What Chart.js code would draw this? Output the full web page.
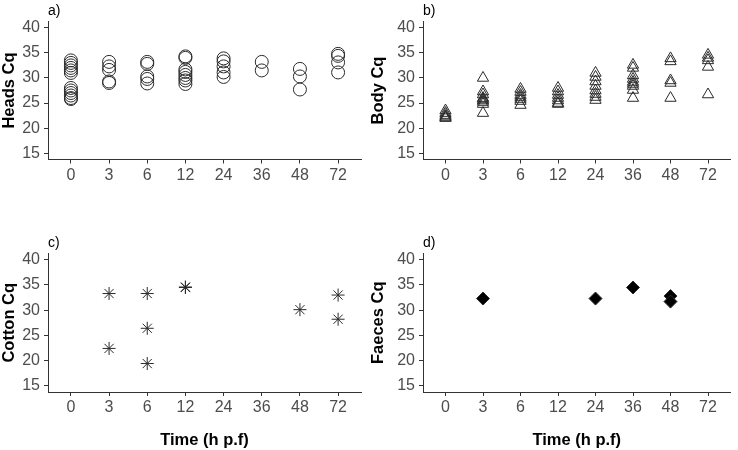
<!DOCTYPE html>
<html lang="en">
<head>
  <meta charset="UTF-8" />
  <title>Cq over time</title>
  <script src="https://cdn.jsdelivr.net/npm/chart.js"></script>
  <style>
    body { margin: 0; padding: 0; background: #fff; font-family: "Liberation Sans", Arial, sans-serif; }
    #wrap { position: relative; width: 738px; height: 450px; }
    .panel { position: absolute; }
    .lbl { position: absolute; font-size: 14px; color: #000; }
  </style>
</head>
<body>
  <div id="wrap">
    <div class="panel" style="left:0;top:0;"><canvas id="cA" width="369" height="200"></canvas></div>
    <div class="panel" style="left:369px;top:0;"><canvas id="cB" width="369" height="200"></canvas></div>
    <div class="panel" style="left:0;top:220px;"><canvas id="cC" width="369" height="230"></canvas></div>
    <div class="panel" style="left:369px;top:220px;"><canvas id="cD" width="369" height="230"></canvas></div>
    <div class="lbl" style="left:48px;top:2px;">a)</div>
    <div class="lbl" style="left:423px;top:2px;">b)</div>
    <div class="lbl" style="left:48px;top:234px;">c)</div>
    <div class="lbl" style="left:423px;top:234px;">d)</div>
  </div>

  <script>
    const timeLabels = ['0', '3', '6', '12', '24', '36', '48', '72'];

    // one list of Cq values per time point
    const headsCq = [
      [33.5, 33, 32.5, 32, 31.5, 31, 28, 27.5, 27, 26.5, 26, 25.8],
      [33.2, 32.3, 31.6, 29.3, 29],
      [33.2, 32.8, 30.3, 29.8, 28.9],
      [34.3, 34, 31.7, 31.2, 30.6, 30, 29.5, 28.8],
      [33.9, 33.3, 32.3, 31.1, 30.2],
      [33.2, 31.5],
      [31.8, 30.3, 27.7],
      [34.8, 34.4, 33.1, 31.1]
    ];
    const bodyCq = [
      [23.5, 23, 22.6, 22.3, 22.1, 22],
      [30, 27.3, 26.7, 26, 25.8, 25.5, 25.2, 24.8, 23],
      [27.8, 27.2, 26.6, 26.2, 25.8, 25.4, 24.6],
      [28, 27.3, 26.6, 26, 25.5, 25, 24.8],
      [31, 30.2, 29.3, 28.4, 27.5, 26.8, 26.2, 25.6],
      [32.6, 32, 30.5, 29.8, 29.2, 28.8, 28.4, 27.6, 26],
      [33.9, 33.3, 29.5, 29, 26],
      [34.6, 34, 33.5, 32.2, 26.7]
    ];
    const cottonCq = [
      [],
      [33.3, 22.4],
      [33.3, 26.4, 19.4],
      [34.6, 34.5],
      [],
      [],
      [30.1],
      [33, 28.2]
    ];
    const faecesCq = [
      [],
      [32.3],
      [],
      [],
      [32.3],
      [34.5],
      [32.8, 31.7],
      []
    ];

    function toPoints(groups) {
      const pts = [];
      groups.forEach((vals, i) => vals.forEach(v => pts.push({ x: i, y: v })));
      return pts;
    }

    const tickFont = { family: '"Liberation Sans", Arial, sans-serif', size: 16 };
    const titleFont = { family: '"Liberation Sans", Arial, sans-serif', size: 16.5, weight: 'bold' };

    function makePanel(id, groups, yTitle, marker, showXTitle, yWidth) {
      const xHeight = showXTitle ? 58 : 40.5;
      const padTop = showXTitle ? 33.5 : 21.5;
      new Chart(document.getElementById(id), {
        type: 'scatter',
        data: {
          datasets: [{
            data: toPoints(groups),
            pointStyle: marker.style,
            pointRadius: marker.radius,
            pointHoverRadius: marker.radius,
            borderColor: '#2a2a2a',
            backgroundColor: marker.fill,
            borderWidth: marker.width
          }]
        },
        options: {
          responsive: false,
          animation: false,
          layout: { padding: { top: padTop, right: id === 'cB' || id === 'cD' ? 1 : 8, left: 0, bottom: 0 } },
          plugins: { legend: { display: false }, tooltip: { enabled: false } },
          scales: {
            x: {
              type: 'linear',
              min: -0.6,
              max: 7.6,
              afterBuildTicks: s => { s.ticks = timeLabels.map((t, i) => ({ value: i })); },
              afterFit: s => { s.height = xHeight; },
              ticks: {
                callback: v => timeLabels[v],
                font: tickFont,
                color: '#4d4d4d',
                padding: 2,
                maxRotation: 0
              },
              grid: { display: true, drawOnChartArea: false, drawTicks: true, tickLength: 4, color: '#333' },
              border: { display: true, color: '#333', width: 1 },
              title: { display: showXTitle, text: 'Time (h p.f)', font: titleFont, color: '#000', padding: { top: 0, bottom: 0 } }
            },
            y: {
              min: 13.75,
              max: 41.25,
              afterBuildTicks: s => { s.ticks = [15, 20, 25, 30, 35, 40].map(v => ({ value: v })); },
              afterFit: s => { s.width = yWidth; },
              ticks: { font: tickFont, color: '#4d4d4d', padding: 4 },
              grid: { display: true, drawOnChartArea: false, drawTicks: true, tickLength: 4, color: '#333' },
              border: { display: true, color: '#333', width: 1 },
              title: { display: true, text: yTitle, font: titleFont, color: '#000', padding: { top: 0, bottom: 0 } }
            }
          }
        }
      });
    }

    makePanel('cA', headsCq, 'Heads Cq', { style: 'circle', radius: 6.5, fill: 'rgba(0,0,0,0)', width: 1 }, false, 48);
    makePanel('cB', bodyCq, 'Body Cq', { style: 'triangle', radius: 6.5, fill: 'rgba(0,0,0,0)', width: 1 }, false, 54);
    makePanel('cC', cottonCq, 'Cotton Cq', { style: 'star', radius: 6.5, fill: 'rgba(0,0,0,0)', width: 1 }, true, 48);
    makePanel('cD', faecesCq, 'Faeces Cq', { style: 'rectRot', radius: 6.5, fill: '#000', width: 1 }, true, 54);
  </script>
</body>
</html>
